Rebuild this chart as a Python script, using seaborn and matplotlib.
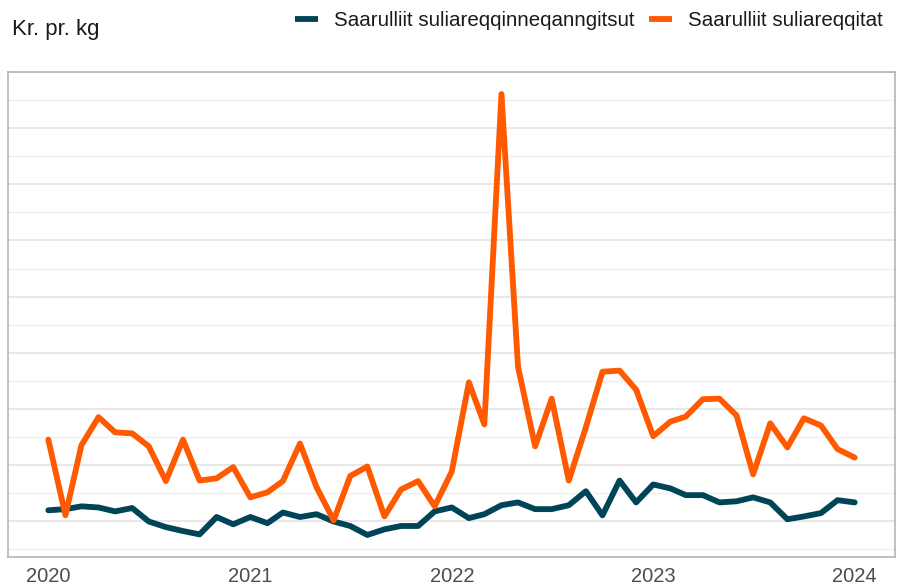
import numpy as np
import pandas as pd
import matplotlib
matplotlib.use("Agg")
import matplotlib.pyplot as plt
from matplotlib.ticker import MultipleLocator
from matplotlib.lines import Line2D
import seaborn as sns

months = pd.date_range("2020-01-01", "2024-01-01", freq="MS")

series_names = ["Saarulliit suliareqqinneqanngitsut", "Saarulliit suliareqqitat"]

navy_values = [11.9, 12.1, 12.6, 12.4, 11.7, 12.3, 9.9, 8.9, 8.2, 7.6, 10.7, 9.4,
               10.7, 9.6, 11.5, 10.7, 11.2, 9.9, 9.1, 7.5, 8.5, 9.1, 9.1, 11.7,
               12.4, 10.5, 11.2, 12.8, 13.3, 12.1, 12.1, 12.8, 15.3, 11.0, 17.2, 13.3,
               16.5, 15.8, 14.6, 14.6, 13.3, 13.5, 14.2, 13.3, 10.3, 10.8, 11.4, 13.7,
               13.3]

orange_values = [24.5, 11.0, 23.5, 28.5, 25.8, 25.6, 23.3, 17.1, 24.5, 17.2, 17.6, 19.6,
                 14.2, 15.1, 17.1, 23.8, 16.0, 10.1, 18.0, 19.7, 10.8, 15.6, 17.1, 12.6,
                 18.8, 34.7, 27.2, 86.1, 37.5, 23.3, 31.8, 17.2, 26.7, 36.6, 36.8, 33.4,
                 25.1, 27.7, 28.6, 31.7, 31.8, 28.8, 18.3, 27.4, 23.1, 28.3, 27.0, 22.8,
                 21.3]

year_ticks = ["2020", "2021", "2022", "2023", "2024"]

colors = ["#004457", "#ff5a00"]

df = pd.concat([
    pd.DataFrame({"date": months, "value": navy_values, "series": series_names[0]}),
    pd.DataFrame({"date": months, "value": orange_values, "series": series_names[1]}),
])

sns.set_theme(style="white")
plt.rcParams["font.family"] = ["Liberation Sans", "DejaVu Sans"]

fig = plt.figure(figsize=(9.02, 5.88), dpi=100)
ax = fig.add_axes([8 / 902, 1 - 557 / 588, 887 / 902, (557 - 72) / 588])

sns.lineplot(data=df, x="date", y="value", hue="series", palette=colors,
             hue_order=series_names, linewidth=4.2, ax=ax, legend=False)

allv = navy_values + orange_values
lo, hi = min(allv), max(allv)
pad = (hi - lo) * 0.05
ax.set_ylim(lo - pad, hi + pad)
x0, x1 = months[0], months[-1]
dpad = (x1 - x0) * 0.05
ax.set_xlim(x0 - dpad, x1 + dpad)

ax.yaxis.set_major_locator(MultipleLocator(10))
ax.yaxis.set_minor_locator(MultipleLocator(5))
ax.grid(True, which="major", axis="y", color="#e6e6e6", linewidth=1.3)
ax.grid(True, which="minor", axis="y", color="#efefef", linewidth=0.9)
ax.set_axisbelow(True)
ax.tick_params(axis="y", which="both", length=0, labelleft=False)

ax.set_xticks([pd.Timestamp(f"{y}-01-01") for y in year_ticks])
ax.set_xticklabels(year_ticks)
ax.tick_params(axis="x", length=0, pad=7, labelsize=14.5, labelcolor="#4d4d4d")
ax.set_xlabel("")
ax.set_ylabel("")

for s in ax.spines.values():
    s.set_visible(True)
    s.set_color("#b5b5b5")
    s.set_linewidth(1.2)

fig.text(12 / 902, 1 - 29 / 588, "Kr. pr. kg", fontsize=16, color="#1a1a1a",
         va="center", ha="left")

handles = [Line2D([0], [0], color=c, linewidth=4.2, solid_capstyle="butt") for c in colors]
fig.legend(handles, series_names, loc="center right", ncol=2,
           bbox_to_anchor=(883 / 902, 1 - 21 / 588), frameon=False,
           fontsize=14.8, handlelength=1.12, handletextpad=0.78,
           columnspacing=0.73, borderaxespad=0, borderpad=0,
           labelcolor="#1a1a1a")

fig.savefig("out.png", dpi=100, facecolor="white")
